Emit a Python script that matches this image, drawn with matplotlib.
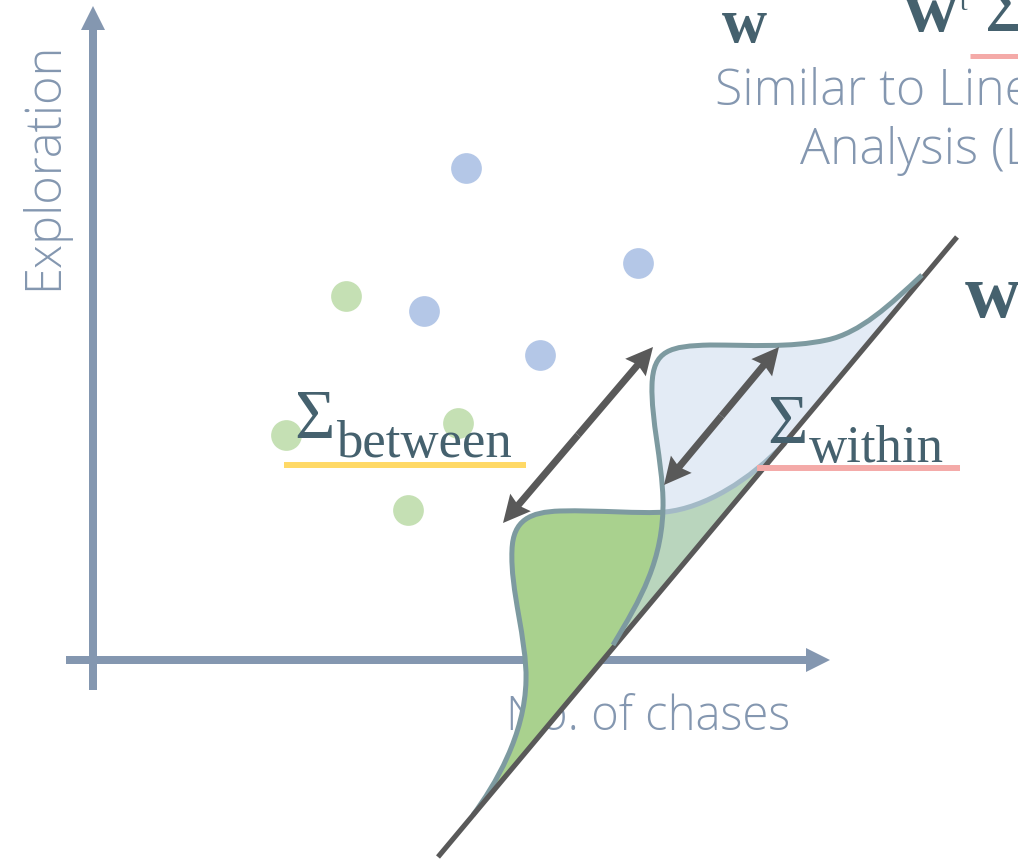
import matplotlib
matplotlib.use('Agg')
import matplotlib.pyplot as plt
from matplotlib.path import Path
from matplotlib.patches import PathPatch, FancyArrow

# ---------------- data (pixel-space diagram coordinates) ----------------
blue_x = [466, 638, 424, 540]
blue_y = [168, 263, 311, 355]
green_x = [346, 286, 458, 408]
green_y = [296, 435, 423, 510]

# projection direction line (w)
proj_x = [957, 438]
proj_y = [237, 857]

# projected class densities, as cubic Bezier control points
green_start = (473, 815)
green_segments = [
    ((495, 785), (525, 735), (526, 680)),
    ((527, 640), (510, 590), (512, 550)),
    ((513, 520), (530, 512), (560, 511)),
    ((600, 510), (640, 514), (665, 512)),
    ((705, 508), (750, 480), (785, 443)),
]
blue_start = (613, 645)
blue_segments = [
    ((640, 600), (664, 560), (663, 500)),
    ((662, 460), (651, 420), (652, 385)),
    ((653, 350), (670, 346), (710, 345)),
    ((750, 345), (790, 348), (827, 340)),
    ((860, 333), (890, 305), (922, 275)),
]

# double-headed arrows (between / within spread)
arrows = [((653, 347), (503, 523)), ((779, 347), (664, 485))]

x_axis_label = "No. of chases"
y_axis_label = "Exploration"
note_lines = ["Similar to Linear Discriminant", "Analysis (LDA)"]

# ---------------- styles ----------------
AX_C = '#8497b0'
DARK = '#595959'
OUTLINE = '#7d9aa0'
TXT = '#45616e'
LIGHT_FONT = 'Open Sans'
SERIF = 'Liberation Serif'

fig = plt.figure(figsize=(10.18, 8.6), dpi=100)
ax = fig.add_axes([0, 0, 1, 1])
ax.set_xlim(0, 1018)
ax.set_ylim(860, 0)
ax.axis('off')

# axes arrows
ax.add_patch(FancyArrow(93, 690, 0, 6 - 690, width=8, head_width=24, head_length=24,
                        length_includes_head=True, color=AX_C, lw=0, zorder=1))
ax.add_patch(FancyArrow(66, 660, 830 - 66, 0, width=8, head_width=24, head_length=24,
                        length_includes_head=True, color=AX_C, lw=0, zorder=1))

ax.text(44, 166, y_axis_label, rotation=90, ha='center', va='center', fontsize=35,
        family=LIGHT_FONT, fontweight='light', color=AX_C, zorder=2)
ax.text(506, 730, x_axis_label, ha='left', va='baseline', fontsize=34,
        family=LIGHT_FONT, fontweight='light', color=AX_C, zorder=2)

ax.text(715, 105, note_lines[0], ha='left', va='baseline', fontsize=36,
        family=LIGHT_FONT, fontweight='light', color=AX_C, zorder=2)
ax.text(800, 164, note_lines[1], ha='left', va='baseline', fontsize=36,
        family=LIGHT_FONT, fontweight='light', color=AX_C, zorder=2)

# scatter points
ax.scatter(blue_x, blue_y, s=490, color='#b4c7e7', linewidths=0, zorder=2)
ax.scatter(green_x, green_y, s=490, color='#c5e0b4', linewidths=0, zorder=2)


def make_path(start, segs, close=False):
    verts = [start]
    codes = [Path.MOVETO]
    for c1, c2, p in segs:
        verts += [c1, c2, p]
        codes += [Path.CURVE4] * 3
    if close:
        verts += [start, start]
        codes += [Path.LINETO, Path.CLOSEPOLY]
    return Path(verts, codes)


# green density
ax.add_patch(PathPatch(make_path(green_start, green_segments, close=True),
                       facecolor='#a9d18e', edgecolor='none', zorder=4))
ax.add_patch(PathPatch(make_path(green_start, green_segments), facecolor='none',
                       edgecolor=OUTLINE, lw=3.6, zorder=4.1))
# blue density
ax.add_patch(PathPatch(make_path(blue_start, blue_segments, close=True),
                       facecolor='#c9d9ed', alpha=0.5, edgecolor='none', zorder=4.5))

# projection line
ax.plot(proj_x, proj_y, color=DARK, lw=3.7, solid_capstyle='butt', zorder=5)

ax.add_patch(PathPatch(make_path(blue_start, blue_segments), facecolor='none',
                       edgecolor=OUTLINE, lw=3.6, zorder=5.2))

# double arrows
for (xa, ya), (xb, yb) in arrows:
    mx, my = (xa + xb) / 2, (ya + yb) / 2
    for ex, ey in ((xa, ya), (xb, yb)):
        ax.add_patch(FancyArrow(mx, my, ex - mx, ey - my, width=7, head_width=27,
                                head_length=27, overhang=0.1, length_includes_head=True,
                                color=DARK, lw=0, zorder=6))

# sigma labels
ax.text(294, 438, 'Σ', fontsize=50, family=SERIF, color=TXT, va='baseline', zorder=7)
ax.text(336, 457, 'between', fontsize=38, family=SERIF, color=TXT, va='baseline', zorder=7)
ax.plot([284, 526], [465, 465], color='#ffd966', lw=4.3, solid_capstyle='butt', zorder=6.5)

ax.text(767, 443, 'Σ', fontsize=50, family=SERIF, color=TXT, va='baseline', zorder=7)
ax.text(809, 462, 'within', fontsize=38, family=SERIF, color=TXT, va='baseline', zorder=7)
ax.plot([757, 960], [468, 468], color='#f4aaa8', lw=4.3, solid_capstyle='butt', zorder=6.5)

# vector labels
ax.text(722, 42, 'w', fontsize=45, family=SERIF, fontweight='bold', color=TXT, va='baseline')
ax.text(965, 317, 'w', fontsize=55, family=SERIF, fontweight='bold', color=TXT, va='baseline')
ax.text(904, 31, 'w', fontsize=54, family=SERIF, fontweight='bold', color=TXT, va='baseline')
ax.text(960, 10, 't', fontsize=20, family=SERIF, color=TXT, va='baseline')
ax.text(985, 31, 'Σ', fontsize=56, family=SERIF, color=TXT, va='baseline')
ax.plot([970, 1018], [56, 56], color='#f4aaa8', lw=3.6, solid_capstyle='butt')

fig.savefig('out.png', dpi=100)
